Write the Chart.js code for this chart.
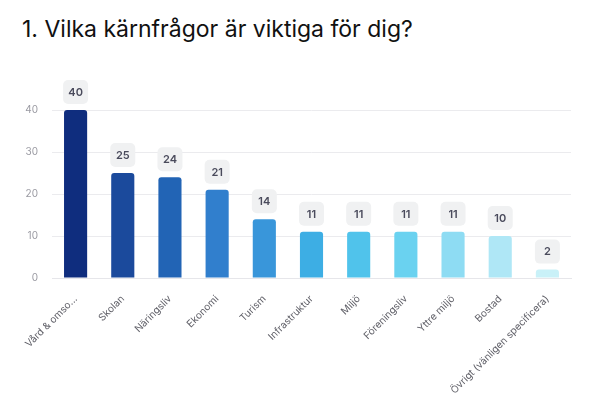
<!DOCTYPE html>
<html lang="sv">
<head>
    <meta charset="UTF-8">
    <title>Vilka kärnfrågor är viktiga för dig?</title>
    <script src="https://cdn.jsdelivr.net/npm/chart.js@4.4.0/dist/chart.umd.min.js"></script>
    <style>
        body {
            margin: 0;
            background: #fff;
            font-family: Inter, "Noto Sans", sans-serif;
        }
        .wrap {
            position: relative;
            width: 605px;
            height: 395px;
        }
        h1 {
            position: absolute;
            left: 22px;
            top: 15px;
            margin: 0;
            font-size: 23px;
            font-weight: 400;
            color: #111;
        }
        canvas {
            position: absolute;
            left: 0;
            top: 0;
        }
    </style>
</head>
<body>
    <div class="wrap">
        <h1>1. Vilka kärnfrågor är viktiga för dig?</h1>
        <canvas id="chart" width="605" height="395"></canvas>
    </div>

    <script>
        const categories = ['Vård & omso...', 'Skolan', 'Näringsliv', 'Ekonomi', 'Turism', 'Infrastruktur',
            'Miljö', 'Föreningsliv', 'Yttre miljö', 'Bostad', 'Övrigt (vänligen specificera)'];
        const values = [40, 25, 24, 21, 14, 11, 11, 11, 11, 10, 2];
        const yTicks = [0, 10, 20, 30, 40];
        const barColors = ['#0f2d7e', '#1b4a9c', '#2264b5', '#317fcd', '#3996da', '#3daee4',
            '#50c3eb', '#6ad2f0', '#8edcf3', '#afe7f6', '#c9f1f8'];

        // small grey boxes with the value above each bar
        const valueBoxes = {
            id: 'valueBoxes',
            afterDatasetsDraw(chart) {
                const ctx = chart.ctx;
                const meta = chart.getDatasetMeta(0);
                ctx.save();
                ctx.font = '600 11px Inter, sans-serif';
                ctx.textAlign = 'center';
                ctx.textBaseline = 'middle';
                meta.data.forEach((bar, i) => {
                    const w = 25, h = 24;
                    const x = bar.x - w / 2;
                    const y = bar.y - 6 - h;
                    ctx.fillStyle = '#f0f1f2';
                    ctx.beginPath();
                    ctx.roundRect(x, y, w, h, 5);
                    ctx.fill();
                    ctx.fillStyle = '#4a4b5c';
                    ctx.fillText(values[i], bar.x, y + h / 2 + 0.5);
                });
                ctx.restore();
            }
        };

        new Chart(document.getElementById('chart'), {
            type: 'bar',
            data: {
                labels: categories,
                datasets: [{
                    data: values,
                    backgroundColor: barColors,
                    borderRadius: { topLeft: 3, topRight: 3 },
                    borderSkipped: 'bottom',
                    categoryPercentage: 1,
                    barPercentage: 0.49
                }]
            },
            options: {
                responsive: false,
                animation: false,
                layout: { padding: { top: 110, right: 34, left: 0, bottom: 0 } },
                plugins: {
                    legend: { display: false },
                    tooltip: { enabled: false }
                },
                scales: {
                    y: {
                        min: 0,
                        max: 40,
                        afterFit(axis) { axis.width = 52; },
                        afterBuildTicks(axis) { axis.ticks = yTicks.map(v => ({ value: v })); },
                        border: { display: false },
                        grid: { color: '#ebebee', drawTicks: false },
                        ticks: {
                            padding: 14,
                            color: '#9a9aa2',
                            font: { family: 'Inter', size: 10 }
                        }
                    },
                    x: {
                        afterFit(axis) { axis.height = 117; },
                        border: { color: '#e6e6ea' },
                        grid: { display: false },
                        ticks: {
                            minRotation: 45,
                            maxRotation: 45,
                            autoSkip: false,
                            padding: 7,
                            color: '#606068',
                            font: { family: 'Inter', size: 10 }
                        }
                    }
                }
            },
            plugins: [valueBoxes]
        });
    </script>
</body>
</html>
